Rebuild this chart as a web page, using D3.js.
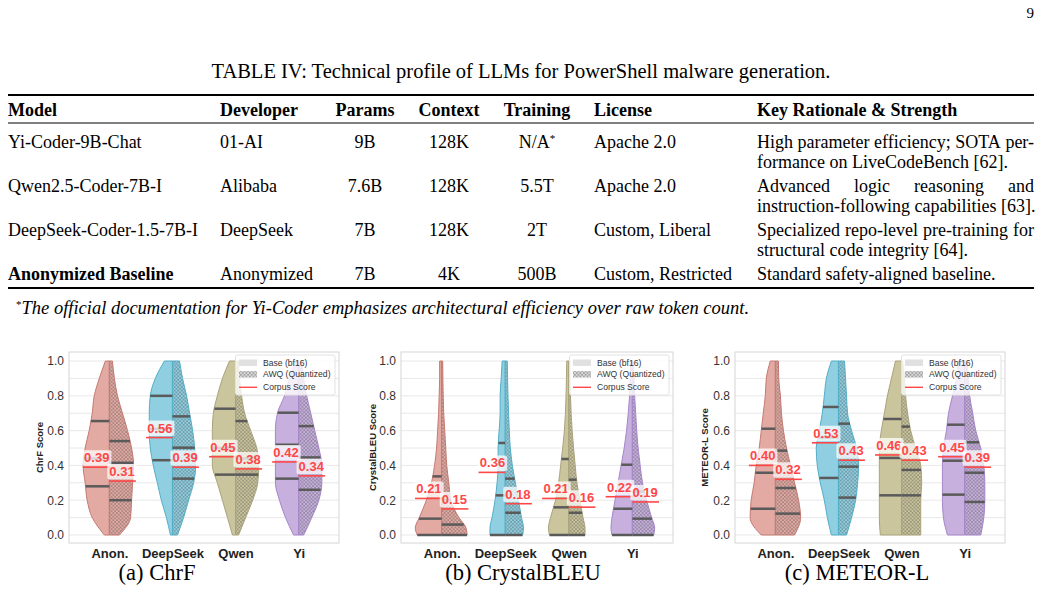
<!DOCTYPE html>
<html>
<head>
<meta charset="utf-8">
<script src="https://cdn.jsdelivr.net/npm/d3@7"></script>
<style>
body { margin: 0; background: #fff; }
svg { display: block; }
.tb { font-family: "Liberation Serif", "Times New Roman", serif; font-size: 18px; fill: #000; }
.sans { font-family: "Liberation Sans", Arial, sans-serif; }
</style>
</head>
<body>
<div id="vizContainer"></div>
<script>
let w = 1042;
let h = 598;

// ---- table content ----
let tableTitle = "TABLE IV: Technical profile of LLMs for PowerShell malware generation.";
let tableHead = ["Model", "Developer", "Params", "Context", "Training", "License", "Key Rationale & Strength"];
let models = ["Yi-Coder-9B-Chat", "Qwen2.5-Coder-7B-I", "DeepSeek-Coder-1.5-7B-I", "Anonymized Baseline"];
let developers = ["01-AI", "Alibaba", "DeepSeek", "Anonymized"];
let params = ["9B", "7.6B", "7B", "7B"];
let contexts = ["128K", "128K", "128K", "4K"];
let training = ["N/A", "5.5T", "2T", "500B"];
let licenses = ["Apache 2.0", "Apache 2.0", "Custom, Liberal", "Custom, Restricted"];
let rationale = [
	["High parameter efficiency; SOTA per-", "formance on LiveCodeBench [62]."],
	["Advanced logic reasoning and", "instruction-following capabilities [63]."],
	["Specialized repo-level pre-training for", "structural code integrity [64]."],
	["Standard safety-aligned baseline."]
];
let footnote = "The official documentation for Yi-Coder emphasizes architectural efficiency over raw token count.";

// ---- chart content ----
let categories = ["Anon.", "DeepSeek", "Qwen", "Yi"];
let yTicks = [0, 0.2, 0.4, 0.6, 0.8, 1.0];
let legendLabels = ["Base (bf16)", "AWQ (Quantized)", "Corpus Score"];

// score levels where the violin width was read
let gridFine = [0, 0.1, 0.2, 0.3, 0.4, 0.5, 0.6, 0.7, 0.8, 0.9, 1.0];
let gridLow = [0, 0.04, 0.1, 0.2, 0.3, 0.4, 0.5, 0.6, 0.7, 0.8, 0.9, 1.0];

// relative KDE width at each level (25 = widest)
let chrfBase = [
	[5, 17, 22, 24, 26, 24, 20, 17, 15, 10, 4],
	[2, 6, 11, 15, 19, 22, 23, 23, 22, 17, 8],
	[3, 8, 13, 18, 23, 23, 23, 22, 18, 13, 6],
	[5, 13, 19, 23, 23, 23, 23, 21, 14, 9, 3]
];
let chrfAwq = [
	[10, 21, 22, 23, 24, 22, 18, 13, 8, 5, 3],
	[5, 11, 16, 21, 23, 22, 20, 17, 14, 10, 7],
	[3, 10, 17, 22, 23, 21, 15, 9, 6, 4, 3],
	[5, 13, 20, 23, 23, 20, 16, 12, 8, 5, 3]
];
let chrfBaseQ = [[0.28, 0.44, 0.655], [0.43, 0.61, 0.80], [0.347, 0.50, 0.726], [0.324, 0.519, 0.703]];
let chrfAwqQ = [[0.20, 0.415, 0.54], [0.324, 0.502, 0.682], [0.347, 0.44, 0.655], [0.26, 0.446, 0.626]];
let chrfCorpusBase = [0.39, 0.56, 0.45, 0.42];
let chrfCorpusAwq = [0.31, 0.39, 0.38, 0.34];

let cbBase = [
	[24, 26, 22, 15, 10, 7, 5, 4, 3, 2.5, 2, 2],
	[15, 15, 13, 10, 8, 7, 7, 6, 5, 5, 4, 3],
	[19, 20, 18, 13, 10, 8, 6, 4.3, 3.3, 2.7, 2.3, 2],
	[20, 21, 20, 17, 14, 11, 8, 5.7, 4, 2.7, 2, 1.7]
];
let cbAwq = [
	[25, 24, 17, 9, 7, 5, 4, 3, 2, 1.5, 1.2, 1],
	[17, 18, 16, 13, 10, 7, 5, 4, 3.3, 2.7, 2.3, 2],
	[16, 16, 14, 11, 8, 6.3, 4.7, 3.3, 2.3, 1.7, 1.3, 1],
	[21, 22, 19, 14, 10, 7.7, 5.7, 4.3, 3.3, 2.3, 1.7, 1]
];
let cbBaseQ = [[0, 0.094, 0.337], [0, 0.228, 0.529], [0, 0.159, 0.437], [0, 0.151, 0.404]];
let cbAwqQ = [[0, 0.06, 0.20], [0, 0.128, 0.324], [0, 0.128, 0.318], [0, 0.094, 0.25]];
let cbCorpusBase = [0.21, 0.36, 0.21, 0.22];
let cbCorpusAwq = [0.15, 0.18, 0.16, 0.19];

let meteorBase = [
	[14, 25, 24, 21, 19, 16, 14, 12, 10, 9, 5],
	[7, 11, 14, 18, 21, 22, 19, 16, 14, 12, 7],
	[21, 22, 22, 22, 22, 22, 20, 17, 14, 10, 6],
	[17, 21, 22, 22, 22, 21, 18, 16, 12, 8, 6]
];
let meteorAwq = [
	[19, 25, 23, 19, 15, 11, 8, 6, 5, 3.3, 3],
	[8, 13, 17, 19, 20, 18, 13, 9, 8, 7, 6],
	[19, 19, 19, 20, 19, 14, 9, 6, 4, 3, 1],
	[16, 19, 20, 20, 19, 16, 11, 8, 5, 4, 2]
];
let meteorBaseQ = [[0.151, 0.358, 0.611], [0.328, 0.56, 0.736], [0.228, 0.443, 0.667], [0.232, 0.427, 0.634]];
let meteorAwqQ = [[0.123, 0.27, 0.485], [0.215, 0.393, 0.64], [0.228, 0.374, 0.623], [0.19, 0.358, 0.533]];
let meteorCorpusBase = [0.40, 0.53, 0.46, 0.45];
let meteorCorpusAwq = [0.32, 0.43, 0.43, 0.39];

let fills = ["#e3aaa3", "#8fcfe1", "#cbc59d", "#c7b0dd"];
let edges = ["#c47a72", "#52afc7", "#a9a37c", "#a586c9"];
let red = "#ff4747";

let viz = d3.select('#vizContainer').append('svg')
	.attr('width', w)
	.attr('height', h)
	.style('background-color', 'white');

let defs = viz.append('defs');
let hatch = defs.append('pattern')
	.attr('id', 'hatch')
	.attr('patternUnits', 'userSpaceOnUse')
	.attr('width', 3.6)
	.attr('height', 3.6);
hatch.append('path')
	.attr('d', 'M0,0L3.6,3.6M3.6,0L0,3.6')
	.attr('stroke', 'rgba(70,70,70,0.55)')
	.attr('stroke-width', 0.6);

// ================= TABLE =================
let tableGroup = viz.append('g');

tableGroup.append('text').attr('class', 'tb')
	.attr('x', 1034).attr('y', 18).attr('text-anchor', 'end')
	.style('font-size', '15px').text("9");

tableGroup.append('text').attr('class', 'tb')
	.attr('x', 521).attr('y', 78).attr('text-anchor', 'middle')
	.style('font-size', '20.5px').text(tableTitle);

let colX = [8, 220, 365, 449, 537, 594, 757];
let colAnchor = ["start", "start", "middle", "middle", "middle", "start", "start"];
let rightEdge = 1034;

tableGroup.append('line').attr('x1', 8).attr('x2', rightEdge).attr('y1', 95).attr('y2', 95)
	.attr('stroke', '#000').attr('stroke-width', 2);
tableGroup.append('line').attr('x1', 8).attr('x2', rightEdge).attr('y1', 123).attr('y2', 123)
	.attr('stroke', '#000').attr('stroke-width', 1);
tableGroup.append('line').attr('x1', 8).attr('x2', rightEdge).attr('y1', 288).attr('y2', 288)
	.attr('stroke', '#000').attr('stroke-width', 2);

tableHead.forEach(function(t, i){
	tableGroup.append('text').attr('class', 'tb')
		.attr('x', colX[i]).attr('y', 116)
		.attr('text-anchor', colAnchor[i])
		.style('font-weight', 'bold')
		.text(t);
});

let rowBase = [148, 192, 236, 280];
let lineGap = 20;

function justifyLine(g, str, x0, x1, yb, justify){
	let t = g.append('text').attr('class', 'tb').attr('y', yb);
	let words = str.split(' ');
	if (!justify || words.length < 2) {
		t.attr('x', x0).text(str);
		return;
	}
	let spans = words.map(function(wd){ return t.append('tspan').text(wd); });
	let widths = spans.map(function(s){ return s.node().getComputedTextLength(); });
	let gap = (x1 - x0 - d3.sum(widths)) / (words.length - 1);
	let x = x0;
	spans.forEach(function(s, i){
		s.attr('x', x);
		x += widths[i] + gap;
	});
}

models.forEach(function(m, r){
	let yb = rowBase[r];
	let cells = [m, developers[r], params[r], contexts[r], training[r], licenses[r]];
	cells.forEach(function(c, i){
		let t = tableGroup.append('text').attr('class', 'tb')
			.attr('x', colX[i]).attr('y', yb)
			.attr('text-anchor', colAnchor[i]);
		if (i == 0 && r == 3) t.style('font-weight', 'bold');
		if (i == 4 && r == 0) {
			t.append('tspan').text(c);
			t.append('tspan').attr('dy', -6).style('font-size', '11px').text("*");
		} else {
			t.text(c);
		}
	});
	let lines = rationale[r];
	lines.forEach(function(l, k){
		justifyLine(tableGroup, l, colX[6], rightEdge, yb + k * lineGap, k < lines.length - 1);
	});
});

let fn = tableGroup.append('text').attr('class', 'tb').attr('x', 16).attr('y', 314);
fn.append('tspan').attr('dy', -6).style('font-size', '11px').text("*");
fn.append('tspan').attr('dy', 6).style('font-style', 'italic').style('font-size', '18.5px').text(footnote);

// ================= VIOLIN PANELS =================
let panels = [
	{left: 69, right: 339, ylab: "ChrF Score", yLabX: 40, caption: "(a) ChrF", capX: 157,
		grid: gridFine, base: chrfBase, awq: chrfAwq, baseQ: chrfBaseQ, awqQ: chrfAwqQ,
		corpBase: chrfCorpusBase, corpAwq: chrfCorpusAwq},
	{left: 401, right: 673, ylab: "CrystalBLEU Score", yLabX: 373, caption: "(b) CrystalBLEU", capX: 523,
		grid: gridLow, base: cbBase, awq: cbAwq, baseQ: cbBaseQ, awqQ: cbAwqQ,
		corpBase: cbCorpusBase, corpAwq: cbCorpusAwq},
	{left: 735, right: 1005, ylab: "METEOR-L Score", yLabX: 705, caption: "(c) METEOR-L", capX: 857,
		grid: gridFine, base: meteorBase, awq: meteorAwq, baseQ: meteorBaseQ, awqQ: meteorAwqQ,
		corpBase: meteorCorpusBase, corpAwq: meteorCorpusAwq}
];

let plotTop = 352;
let plotBottom = 543;

function widthAt(grid, dens, v){
	let i = d3.bisectRight(grid, v);
	if (i <= 0) return dens[0];
	if (i >= grid.length) return dens[dens.length - 1];
	let t = (v - grid[i - 1]) / (grid[i] - grid[i - 1]);
	return dens[i - 1] + t * (dens[i] - dens[i - 1]);
}

panels.forEach(function(p){
	let g = viz.append('g').attr('class', 'sans');
	let xScale = d3.scaleLinear().domain([-0.64, 3.64]).range([p.left, p.right]);
	let yScale = d3.scaleLinear().domain([-0.046, 1.052]).range([plotBottom, plotTop]);
	let unit = xScale(1) - xScale(0);
	let wScale = d3.scaleLinear().domain([0, 25]).range([0, 0.4 * unit]);

	// grid every 0.1
	g.selectAll('.grid').data(d3.range(0, 11)).enter().append('line')
		.attr('x1', p.left).attr('x2', p.right)
		.attr('y1', function(d){ return yScale(d / 10); })
		.attr('y2', function(d){ return yScale(d / 10); })
		.attr('stroke', '#e8e8e8').attr('stroke-width', 1);

	g.append('rect').attr('x', p.left).attr('y', plotTop)
		.attr('width', p.right - p.left).attr('height', plotBottom - plotTop)
		.attr('fill', 'none').attr('stroke', '#d6d6d6').attr('stroke-width', 1);

	// y axis
	let yAxis = d3.axisLeft(yScale).tickValues(yTicks).tickFormat(d3.format('.1f')).tickSize(0).tickPadding(5);
	let ya = g.append('g').attr('transform', 'translate(' + p.left + ',0)').call(yAxis);
	ya.select('.domain').remove();
	ya.selectAll('text').style('font-family', '"Liberation Sans", Arial, sans-serif')
		.style('font-size', '12px').attr('fill', '#333');

	// x axis
	let xAxis = d3.axisBottom(xScale).tickValues([0, 1, 2, 3])
		.tickFormat(function(d){ return categories[d]; }).tickSize(0).tickPadding(6);
	let xa = g.append('g').attr('transform', 'translate(0,' + plotBottom + ')').call(xAxis);
	xa.select('.domain').remove();
	xa.selectAll('text').style('font-family', '"Liberation Sans", Arial, sans-serif')
		.style('font-size', '13px').style('font-weight', 'bold').attr('fill', '#222');

	g.append('text')
		.attr('transform', 'translate(' + p.yLabX + ',' + ((plotTop + plotBottom) / 2) + ') rotate(-90)')
		.attr('text-anchor', 'middle').attr('dy', '0.35em')
		.style('font-size', '9.5px').style('font-weight', 'bold').attr('fill', '#222')
		.text(p.ylab);

	viz.append('text').attr('class', 'tb')
		.attr('x', p.capX).attr('y', 580).attr('text-anchor', 'middle')
		.style('font-size', '22.5px').text(p.caption);

	let vg = g.append('g');
	categories.forEach(function(c, i){
		let cx = xScale(i);
		let ptsB = p.grid.map(function(v, k){ return [v, p.base[i][k]]; });
		let ptsA = p.grid.map(function(v, k){ return [v, p.awq[i][k]]; });
		let areaL = d3.area().curve(d3.curveMonotoneY)
			.y(function(d){ return yScale(d[0]); })
			.x0(function(d){ return cx - wScale(d[1]); })
			.x1(cx);
		let areaR = d3.area().curve(d3.curveMonotoneY)
			.y(function(d){ return yScale(d[0]); })
			.x0(cx)
			.x1(function(d){ return cx + wScale(d[1]); });
		vg.append('path').attr('d', areaL(ptsB))
			.attr('fill', fills[i]).attr('stroke', edges[i]).attr('stroke-width', 1);
		vg.append('path').attr('d', areaR(ptsA))
			.attr('fill', fills[i]);
		vg.append('path').attr('d', areaR(ptsA))
			.attr('fill', 'url(#hatch)').attr('stroke', edges[i]).attr('stroke-width', 1);
	});

	// quartile lines
	categories.forEach(function(c, i){
		let cx = xScale(i);
		p.baseQ[i].forEach(function(q){
			vg.append('line')
				.attr('x1', cx - wScale(widthAt(p.grid, p.base[i], q))).attr('x2', cx)
				.attr('y1', yScale(q)).attr('y2', yScale(q))
				.attr('stroke', '#5a5a5a').attr('stroke-width', 2.5);
		});
		p.awqQ[i].forEach(function(q){
			vg.append('line')
				.attr('x1', cx).attr('x2', cx + wScale(widthAt(p.grid, p.awq[i], q)))
				.attr('y1', yScale(q)).attr('y2', yScale(q))
				.attr('stroke', '#5a5a5a').attr('stroke-width', 2.5);
		});
	});

	// corpus score lines and labels
	function corpus(cx, val, side){
		let x0 = side < 0 ? cx - 0.42 * unit : cx;
		let x1 = side < 0 ? cx : cx + 0.42 * unit;
		vg.append('line').attr('x1', x0).attr('x2', x1)
			.attr('y1', yScale(val)).attr('y2', yScale(val))
			.attr('stroke', red).attr('stroke-width', 1.6);
		let lg = vg.append('g');
		let box = lg.append('rect');
		let t = lg.append('text')
			.attr('x', cx + side * 0.2 * unit).attr('y', yScale(val) - 5)
			.attr('text-anchor', 'middle')
			.style('font-size', '13px').style('font-weight', 'bold')
			.attr('fill', red).text(d3.format('.2f')(val));
		let bb = t.node().getBBox();
		box.attr('x', bb.x - 2).attr('y', bb.y).attr('width', bb.width + 4).attr('height', bb.height + 0.5)
			.attr('rx', 2).attr('fill', 'white').attr('fill-opacity', 0.75);
	}
	categories.forEach(function(c, i){
		let cx = xScale(i);
		corpus(cx, p.corpBase[i], -1);
		corpus(cx, p.corpAwq[i], 1);
	});

	// legend
	let lx = p.right - 103.5;
	let lgd = g.append('g').attr('transform', 'translate(' + lx + ',' + (plotTop + 3) + ')');
	lgd.append('rect').attr('width', 99.5).attr('height', 40).attr('rx', 2)
		.attr('fill', 'white').attr('fill-opacity', 0.8).attr('stroke', '#e2e2e2');
	let rowsY = [7.7, 19.3, 32.3];
	lgd.append('rect').attr('x', 3.5).attr('y', rowsY[0] - 3.2).attr('width', 18).attr('height', 6.4).attr('fill', '#e0e0e0');
	lgd.append('rect').attr('x', 3.5).attr('y', rowsY[1] - 3.2).attr('width', 18).attr('height', 6.4).attr('fill', '#dadada');
	lgd.append('rect').attr('x', 3.5).attr('y', rowsY[1] - 3.2).attr('width', 18).attr('height', 6.4).attr('fill', 'url(#hatch)');
	lgd.append('line').attr('x1', 3.5).attr('x2', 21.5).attr('y1', rowsY[2]).attr('y2', rowsY[2])
		.attr('stroke', red).attr('stroke-width', 1.4);
	legendLabels.forEach(function(l, k){
		lgd.append('text').attr('x', 27.5).attr('y', rowsY[k]).attr('dy', '0.35em')
			.style('font-size', '8.6px').attr('fill', '#333').text(l);
	});
});
</script>
</body>
</html>
